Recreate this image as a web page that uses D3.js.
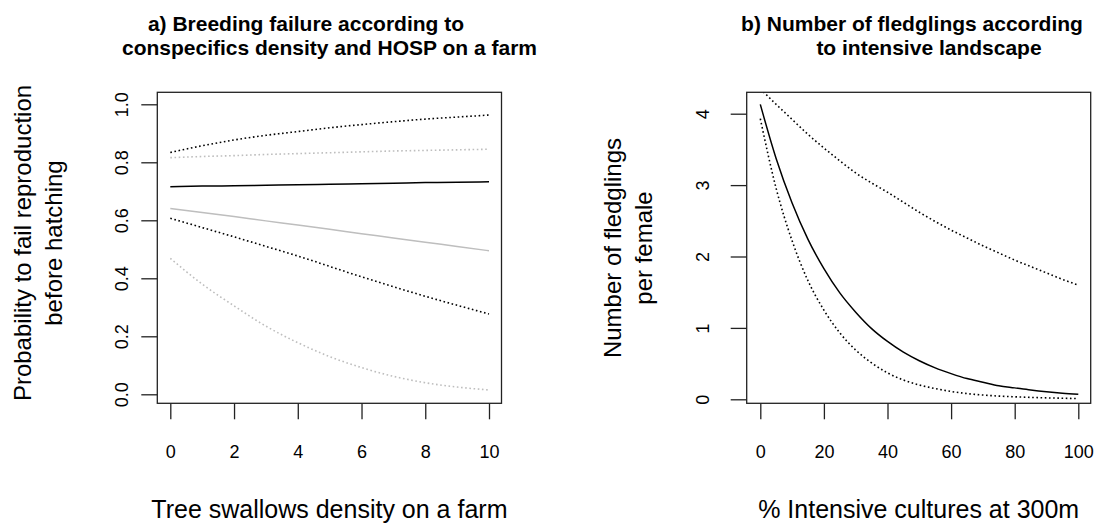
<!DOCTYPE html>
<html>
<head>
<meta charset="utf-8">
<script src="https://cdn.jsdelivr.net/npm/d3@7"></script>
<style>
  html, body { margin: 0; padding: 0; background: #fff; }
  svg { display: block; font-family: "Liberation Sans", Arial, sans-serif; }
</style>
</head>
<body>
<svg id="chart" width="1103" height="524"></svg>
<script>
// ---------- Panel a data ----------
const densityX = [0, 1, 2, 3, 4, 5, 6, 7, 8, 9, 10];
// HOSP absent (black)
const failBlackFit   = [0.716, 0.718, 0.719, 0.721, 0.723, 0.724, 0.726, 0.728, 0.730, 0.731, 0.733];
const failBlackUpper = [0.834, 0.857, 0.877, 0.893, 0.906, 0.919, 0.930, 0.940, 0.949, 0.956, 0.963];
const failBlackLower = [0.607, 0.575, 0.543, 0.510, 0.477, 0.441, 0.405, 0.371, 0.338, 0.307, 0.277];
// HOSP present (grey)
const failGreyFit    = [0.641, 0.627, 0.613, 0.598, 0.584, 0.569, 0.554, 0.539, 0.524, 0.510, 0.495];
const failGreyUpper  = [0.816, 0.820, 0.823, 0.827, 0.830, 0.833, 0.836, 0.839, 0.841, 0.843, 0.845];
const failGreyLower  = [0.469, 0.380, 0.305, 0.235, 0.178, 0.130, 0.092, 0.062, 0.040, 0.025, 0.015];
const ticksA_x = [0, 2, 4, 6, 8, 10];
const ticksA_y = [0.0, 0.2, 0.4, 0.6, 0.8, 1.0];

// ---------- Panel b data ----------
const intensiveX  = [0, 5, 10, 15, 20, 25, 30, 35, 40, 45, 50, 55, 60, 65, 70, 75, 80, 85, 90, 95, 100];
const fledgFit    = [4.13, 3.37, 2.75, 2.24, 1.83, 1.49, 1.22, 0.99, 0.81, 0.66, 0.54, 0.44, 0.36, 0.29, 0.24, 0.19, 0.16, 0.13, 0.105, 0.085, 0.07];
const fledgUpper  = [4.35, 4.13, 3.92, 3.71, 3.52, 3.34, 3.17, 3.03, 2.90, 2.76, 2.62, 2.49, 2.37, 2.26, 2.15, 2.05, 1.95, 1.86, 1.77, 1.68, 1.60];
const fledgLower  = [3.93, 2.95, 2.22, 1.66, 1.25, 0.93, 0.69, 0.51, 0.37, 0.27, 0.20, 0.15, 0.11, 0.08, 0.06, 0.045, 0.035, 0.027, 0.02, 0.015, 0.01];
const ticksB_x = [0, 20, 40, 60, 80, 100];
const ticksB_y = [0, 1, 2, 3, 4];

const titleA = ["a) Breeding failure according to", "conspecifics density and HOSP on a farm"];
const titleB = ["b) Number of fledglings according", "to intensive landscape"];
const ylabA = ["Probability to fail reproduction", "before hatching"];
const ylabB = ["Number of fledglings", "per female"];
const xlabA = "Tree swallows density on a farm";
const xlabB = "% Intensive cultures at 300m";

const svg = d3.select("#chart");
const BLACK = "#000", GREY = "#bebebe";

function panel(cfg) {
  const g = svg.append("g");
  const x = d3.scaleLinear().domain(cfg.xDomain).range(cfg.xRange);
  const y = d3.scaleLinear().domain(cfg.yDomain).range(cfg.yRange);
  const box = cfg.box; // [left, top, right, bottom]

  const clipId = "clip" + cfg.id;
  svg.append("clipPath").attr("id", clipId).append("rect")
    .attr("x", box[0]).attr("y", box[1]).attr("width", box[2] - box[0]).attr("height", box[3] - box[1]);

  // axes
  const ax = g.append("g").attr("transform", `translate(0,${box[3]})`)
    .call(d3.axisBottom(x).tickValues(cfg.xTicks).tickSize(16).tickFormat(d3.format("d")));
  ax.select(".domain").remove();
  ax.selectAll(".tick line").attr("stroke", "#222").attr("stroke-width", 1.3);
  ax.selectAll(".tick text").remove();
  ax.selectAll(".tick").append("text")
    .attr("y", 48.5).attr("dominant-baseline", "central").attr("text-anchor", "middle")
    .attr("fill", "#000").style("font-size", "18px")
    .text(d => d3.format("d")(d));

  const ay = g.append("g").attr("transform", `translate(${box[0]},0)`)
    .call(d3.axisLeft(y).tickValues(cfg.yTicks).tickSize(16));
  ay.select(".domain").remove();
  ay.selectAll(".tick line").attr("stroke", "#222").attr("stroke-width", 1.3);
  ay.selectAll(".tick text").remove();
  ay.selectAll(".tick").append("text")
    .attr("transform", `translate(${cfg.yTickLabelX - box[0]},0) rotate(-90)`)
    .attr("dominant-baseline", "central").attr("text-anchor", "middle")
    .attr("fill", "#000").style("font-size", "18px")
    .text(cfg.yFmt);

  // series
  const lines = g.append("g").attr("clip-path", `url(#${clipId})`);
  cfg.series.forEach(s => {
    const line = d3.line().x((d, i) => x(cfg.xs[i])).y(d => y(d)).curve(d3.curveMonotoneX);
    lines.append("path").datum(s.values)
      .attr("d", line)
      .attr("fill", "none")
      .attr("stroke", s.color)
      .attr("stroke-width", s.dotted ? 1.6 : 1.5)
      .attr("stroke-dasharray", s.dotted ? "1.6,2.6" : null);
  });

  // box
  g.append("rect").attr("x", box[0]).attr("y", box[1])
    .attr("width", box[2] - box[0]).attr("height", box[3] - box[1])
    .attr("fill", "none").attr("stroke", "#222").attr("stroke-width", 1.3);

  // titles
  cfg.title.forEach((t, i) => {
    svg.append("text").attr("x", cfg.titleX[i]).attr("y", cfg.titleY[i])
      .attr("text-anchor", "middle").style("font-size", "21px").style("font-weight", "bold")
      .text(t);
  });
  // x label
  svg.append("text").attr("x", (box[0] + box[2]) / 2).attr("y", 518)
    .attr("text-anchor", "middle").style("font-size", "25px").text(cfg.xlab);
  // y label
  cfg.ylab.forEach((t, i) => {
    svg.append("text").attr("transform", `translate(${cfg.ylabX[i]},${cfg.ylabY}) rotate(-90)`)
      .attr("dominant-baseline", "central").attr("text-anchor", "middle")
      .style("font-size", "24px").text(t);
  });
}

panel({
  id: "A",
  xDomain: [0, 10], xRange: [170.3, 489],
  yDomain: [0, 1], yRange: [394.3, 104.3],
  box: [157.3, 92.3, 501.5, 403.3],
  xTicks: ticksA_x, yTicks: ticksA_y, yFmt: d3.format(".1f"),
  yTickLabelX: 121.7,
  xs: densityX,
  series: [
    { values: failGreyUpper, color: GREY, dotted: true },
    { values: failGreyLower, color: GREY, dotted: true },
    { values: failGreyFit, color: GREY, dotted: false },
    { values: failBlackUpper, color: BLACK, dotted: true },
    { values: failBlackLower, color: BLACK, dotted: true },
    { values: failBlackFit, color: BLACK, dotted: false }
  ],
  title: titleA, titleX: [306, 329.5], titleY: [31, 55],
  xlab: xlabA, ylab: ylabA, ylabX: [22, 53], ylabY: 243
});

panel({
  id: "B",
  xDomain: [0, 100], xRange: [760.3, 1078.3],
  yDomain: [0, 4], yRange: [399.3, 113.7],
  box: [746.7, 92.3, 1090.7, 403.3],
  xTicks: ticksB_x, yTicks: ticksB_y, yFmt: d3.format("d"),
  yTickLabelX: 703.3,
  xs: intensiveX,
  series: [
    { values: fledgUpper, color: BLACK, dotted: true },
    { values: fledgLower, color: BLACK, dotted: true },
    { values: fledgFit, color: BLACK, dotted: false }
  ],
  title: titleB, titleX: [912, 929], titleY: [31, 55],
  xlab: xlabB, ylab: ylabB, ylabX: [612, 643], ylabY: 248
});
</script>
</body>
</html>
